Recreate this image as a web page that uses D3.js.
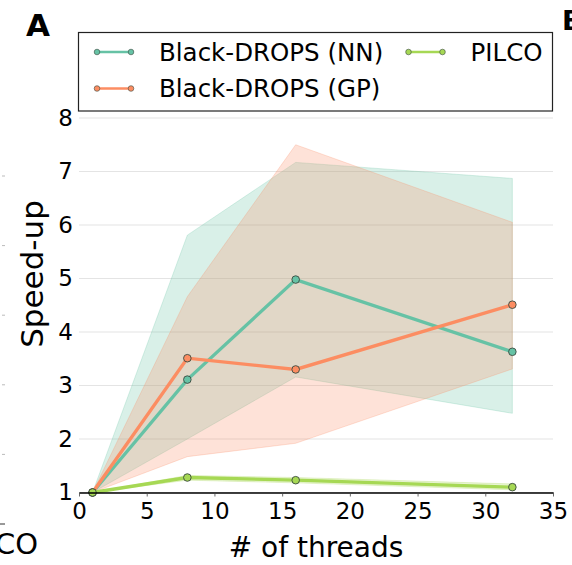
<!DOCTYPE html>
<html>
<head>
<meta charset="utf-8">
<script src="https://cdn.jsdelivr.net/npm/d3@7"></script>
<style>
  body { margin: 0; background: #fff; }
  svg { display: block; font-family: 'DejaVu Sans', sans-serif; }
</style>
</head>
<body>
<div id="chart"></div>
<script>
// values
const threads = [1, 8, 16, 32];
const nnMean = [1, 3.11, 4.98, 3.63];
const nnLow = [1, 2.0, 3.16, 2.48];
const nnHigh = [1, 5.81, 7.17, 6.87];
const gpMean = [1, 3.51, 3.3, 4.51];
const gpLow = [1, 1.67, 1.92, 3.31];
const gpHigh = [1, 4.66, 7.5, 6.05];
const pilcoMean = [1, 1.28, 1.23, 1.1];
const pilcoLow = [1, 1.23, 1.18, 1.05];
const pilcoHigh = [1, 1.32, 1.28, 1.16];
const seriesNames = ['Black-DROPS (NN)', 'Black-DROPS (GP)', 'PILCO'];
const seriesColors = ['#66c2a5', '#fc8d62', '#a6d854'];
const xTicks = [0, 5, 10, 15, 20, 25, 30, 35];
const yTicks = [1, 2, 3, 4, 5, 6, 7, 8];
// tick rows of the neighbouring panel that is cut off on the left
const neighbourTicks = [0, 1, 2, 3, 4, 5];

class SpeedupChart {
  constructor(_config) {
    this.config = {
      parentElement: _config.parentElement,
      containerWidth: 572,
      containerHeight: 565,
      margin: { top: 118, left: 79, right: 19, bottom: 72.5 },
    };
    this.series = seriesNames.map((name, i) => ({
      name: name,
      color: seriesColors[i],
      mean: [nnMean, gpMean, pilcoMean][i],
      low: [nnLow, gpLow, pilcoLow][i],
      high: [nnHigh, gpHigh, pilcoHigh][i],
    }));
    this.initVis();
  }

  initVis() {
    let vis = this;
    const m = vis.config.margin;
    vis.width = vis.config.containerWidth - m.left - m.right;
    vis.height = vis.config.containerHeight - m.top - m.bottom;

    vis.svg = d3
      .select(vis.config.parentElement)
      .append('svg')
      .attr('width', vis.config.containerWidth)
      .attr('height', vis.config.containerHeight);

    vis.chart = vis.svg
      .append('g')
      .attr('transform', `translate(${m.left},${m.top})`);

    vis.xScale = d3.scaleLinear().domain([0, 35]).range([0, vis.width]);
    vis.yScale = d3.scaleLinear().domain([1, 8]).range([vis.height, 0]);

    // panel letters and bits of the neighbouring panels
    vis.svg
      .append('text')
      .attr('x', 26)
      .attr('y', 35.5)
      .attr('font-size', 31)
      .attr('font-weight', 'bold')
      .text('A');
    vis.svg
      .append('text')
      .attr('x', 562)
      .attr('y', 29.5)
      .attr('font-size', 27)
      .attr('font-weight', 'bold')
      .text('B');
    vis.svg
      .append('text')
      .attr('x', 38)
      .attr('y', 554)
      .attr('text-anchor', 'end')
      .attr('font-size', 29)
      .text('PILCO');
    const nScale = d3.scaleLinear().domain([0, 5]).range([524, 176]);
    vis.svg
      .selectAll('.ntick')
      .data(neighbourTicks)
      .join('line')
      .attr('class', 'ntick')
      .attr('x1', (d) => (d === 0 ? 0 : 2))
      .attr('x2', 5)
      .attr('y1', (d) => nScale(d))
      .attr('y2', (d) => nScale(d))
      .attr('stroke', (d) => (d === 0 ? '#333' : '#bbb'))
      .attr('stroke-width', 1);

    vis.renderVis();
  }

  renderVis() {
    let vis = this;

    // grid
    vis.chart
      .selectAll('.grid')
      .data(yTicks)
      .join('line')
      .attr('class', 'grid')
      .attr('x1', 0)
      .attr('x2', vis.width)
      .attr('y1', (d) => vis.yScale(d))
      .attr('y2', (d) => vis.yScale(d))
      .attr('stroke', '#e4e4e4')
      .attr('stroke-width', 1.2);

    const area = d3
      .area()
      .x((d) => vis.xScale(d.x))
      .y0((d) => vis.yScale(d.low))
      .y1((d) => vis.yScale(d.high));
    const line = d3
      .line()
      .x((d) => vis.xScale(d.x))
      .y((d) => vis.yScale(d.y));

    vis.series.forEach((s) => {
      const pts = threads.map((t, i) => ({ x: t, low: s.low[i], high: s.high[i] }));
      vis.chart
        .append('path')
        .datum(pts)
        .attr('d', area)
        .attr('fill', s.color)
        .attr('fill-opacity', 0.25)
        .attr('stroke', s.color)
        .attr('stroke-opacity', 0.25)
        .attr('stroke-width', 1);
    });

    vis.series.forEach((s) => {
      const pts = threads.map((t, i) => ({ x: t, y: s.mean[i] }));
      vis.chart
        .append('path')
        .datum(pts)
        .attr('d', line)
        .attr('fill', 'none')
        .attr('stroke', s.color)
        .attr('stroke-width', 3.3);
      vis.chart
        .selectAll(null)
        .data(pts)
        .join('circle')
        .attr('cx', (d) => vis.xScale(d.x))
        .attr('cy', (d) => vis.yScale(d.y))
        .attr('r', 3.8)
        .attr('fill', s.color)
        .attr('stroke', '#3a4a40')
        .attr('stroke-width', 0.9);
    });

    // axes
    vis.xAxis = d3
      .axisBottom(vis.xScale)
      .tickValues(xTicks)
      .tickFormat(d3.format('d'))
      .tickSize(4)
      .tickSizeOuter(0)
      .tickPadding(6);
    vis.xAxisG = vis.chart
      .append('g')
      .attr('transform', `translate(0,${vis.height})`)
      .call(vis.xAxis);
    vis.xAxisG.select('.domain').attr('stroke', '#000').attr('stroke-width', 1.5);
    vis.xAxisG.selectAll('.tick line').attr('stroke', '#444').attr('stroke-width', 0.8);
    vis.xAxisG
      .selectAll('.tick text')
      .attr('font-size', 23)
      .attr('font-family', 'DejaVu Sans')
      .attr('fill', '#000');

    vis.yAxis = d3
      .axisLeft(vis.yScale)
      .tickValues(yTicks)
      .tickFormat(d3.format('d'))
      .tickSize(0)
      .tickPadding(6);
    vis.yAxisG = vis.chart.append('g').call(vis.yAxis);
    vis.yAxisG.select('.domain').remove();
    vis.yAxisG
      .selectAll('.tick text')
      .attr('font-size', 23)
      .attr('font-family', 'DejaVu Sans')
      .attr('fill', '#000');

    vis.chart
      .append('text')
      .attr('x', vis.width / 2)
      .attr('y', vis.height + 64)
      .attr('text-anchor', 'middle')
      .attr('font-size', 28)
      .text('# of threads');

    vis.svg
      .append('text')
      .attr('transform', 'translate(43,274) rotate(-90)')
      .attr('text-anchor', 'middle')
      .attr('font-size', 31)
      .text('Speed-up');

    vis.renderLegend();
  }

  renderLegend() {
    let vis = this;
    const lg = vis.svg.append('g');
    lg.append('rect')
      .attr('x', 78.5)
      .attr('y', 32.5)
      .attr('width', 474)
      .attr('height', 78.5)
      .attr('fill', '#fff')
      .attr('stroke', '#222')
      .attr('stroke-width', 1.2);

    const slots = [
      { x: 97, y: 52 },
      { x: 97, y: 88.5 },
      { x: 408.5, y: 52 },
    ];
    const item = lg
      .selectAll('.item')
      .data(vis.series)
      .join('g')
      .attr('class', 'item')
      .attr('transform', (d, i) => `translate(${slots[i].x},${slots[i].y})`);
    item
      .append('line')
      .attr('x1', 0)
      .attr('x2', 34)
      .attr('stroke', (d) => d.color)
      .attr('stroke-width', 2.5);
    item
      .selectAll('circle')
      .data((d) => [d, d])
      .join('circle')
      .attr('cx', (d, i) => i * 34)
      .attr('r', 2.8)
      .attr('fill', (d) => d.color)
      .attr('stroke', '#3a4a40')
      .attr('stroke-width', 0.6);
    item
      .append('text')
      .attr('x', 62)
      .attr('dy', '0.35em')
      .attr('font-size', 24.5)
      .text((d) => d.name);
  }
}

new SpeedupChart({ parentElement: '#chart' });
</script>
</body>
</html>
